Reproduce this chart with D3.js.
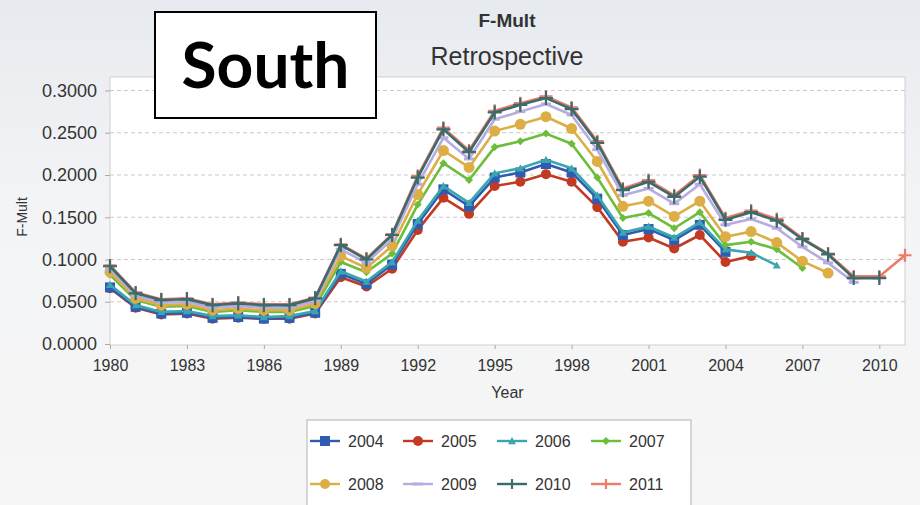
<!DOCTYPE html>
<html>
<head>
<meta charset="utf-8">
<script src="https://cdn.jsdelivr.net/npm/d3@7"></script>
<style>
  html, body { margin: 0; padding: 0; background: #f4f5f7; }
  svg { display: block; }
</style>
</head>
<body>
<svg id="chart" width="920" height="505"></svg>
<script>
// ---------------- DATA ----------------
const years = d3.range(1980, 2012);            // 1980 .. 2011
const xTickValues = [1980, 1983, 1986, 1989, 1992, 1995, 1998, 2001, 2004, 2007, 2010];
const yTickValues = [0, 0.05, 0.10, 0.15, 0.20, 0.25, 0.30];
const seriesNames = ["2004", "2005", "2006", "2007", "2008", "2009", "2010", "2011"];

const f2004 = [0.067, 0.044, 0.036, 0.037, 0.031, 0.032, 0.030, 0.031, 0.037, 0.083, 0.071, 0.094, 0.142, 0.183, 0.163, 0.197, 0.203, 0.213, 0.203, 0.172, 0.129, 0.136, 0.123, 0.141, 0.109];
const f2005 = [0.066, 0.043, 0.035, 0.036, 0.030, 0.031, 0.030, 0.030, 0.036, 0.079, 0.068, 0.089, 0.135, 0.173, 0.154, 0.187, 0.192, 0.201, 0.192, 0.162, 0.121, 0.126, 0.113, 0.129, 0.097, 0.104];
const f2006 = [0.070, 0.046, 0.038, 0.039, 0.033, 0.034, 0.032, 0.033, 0.039, 0.086, 0.074, 0.097, 0.146, 0.187, 0.167, 0.202, 0.208, 0.218, 0.208, 0.176, 0.132, 0.139, 0.126, 0.144, 0.112, 0.108, 0.093];
const f2007 = [0.082, 0.052, 0.044, 0.045, 0.038, 0.040, 0.038, 0.038, 0.045, 0.097, 0.085, 0.107, 0.165, 0.214, 0.194, 0.233, 0.240, 0.249, 0.237, 0.197, 0.149, 0.155, 0.137, 0.156, 0.117, 0.121, 0.112, 0.090];
const f2008 = [0.085, 0.054, 0.046, 0.047, 0.040, 0.042, 0.040, 0.040, 0.048, 0.104, 0.090, 0.116, 0.177, 0.229, 0.209, 0.252, 0.260, 0.269, 0.255, 0.216, 0.163, 0.169, 0.151, 0.169, 0.127, 0.133, 0.120, 0.098, 0.084];
const f2009 = [0.089, 0.057, 0.049, 0.050, 0.043, 0.045, 0.043, 0.043, 0.051, 0.112, 0.096, 0.124, 0.189, 0.244, 0.219, 0.266, 0.275, 0.284, 0.271, 0.230, 0.176, 0.184, 0.166, 0.189, 0.141, 0.148, 0.137, 0.115, 0.096, 0.073];
const f2010 = [0.092, 0.060, 0.052, 0.053, 0.046, 0.048, 0.046, 0.046, 0.054, 0.117, 0.100, 0.129, 0.197, 0.254, 0.227, 0.274, 0.283, 0.291, 0.278, 0.238, 0.182, 0.192, 0.174, 0.198, 0.147, 0.156, 0.146, 0.124, 0.106, 0.078, 0.078];
const f2011 = [0.093, 0.061, 0.053, 0.054, 0.047, 0.049, 0.047, 0.047, 0.055, 0.118, 0.101, 0.130, 0.199, 0.256, 0.229, 0.276, 0.285, 0.293, 0.280, 0.240, 0.184, 0.194, 0.176, 0.200, 0.149, 0.158, 0.148, 0.125, 0.107, 0.080, 0.080, 0.105];

const seriesValues = [f2004, f2005, f2006, f2007, f2008, f2009, f2010, f2011];

// ---------------- STYLE ----------------
const colors = ["#2f5cb0", "#c23a22", "#3aa6b0", "#6cbd3a", "#dcae45", "#b8abdf", "#3b6b6a", "#ee7a68"];
const markers = ["square", "circle", "triangle", "diamond", "circle", "dash", "plus", "plus"];
const markerSize = [10, 10, 8, 8, 11, 10, 14, 13];

const series = seriesNames.map((name, i) => ({
  name, color: colors[i], marker: markers[i], size: markerSize[i],
  points: seriesValues[i].map((v, j) => ({ year: years[j], value: v }))
}));

const svg = d3.select("#chart");
const W = 920, H = 505;

// background gradient
const defs = svg.append("defs");
const grad = defs.append("linearGradient").attr("id", "bg").attr("x1", 0).attr("y1", 0).attr("x2", 0).attr("y2", 1);
grad.append("stop").attr("offset", "0%").attr("stop-color", "#e7eaef");
grad.append("stop").attr("offset", "40%").attr("stop-color", "#f3f4f6");
grad.append("stop").attr("offset", "100%").attr("stop-color", "#f6f6f6");
svg.append("rect").attr("width", W).attr("height", H).attr("fill", "url(#bg)");

const plot = { left: 110, right: 905, top: 77, bottom: 345 };
const x = d3.scaleLinear().domain([1980, 2011]).range([plot.left, plot.right]);
const y = d3.scaleLinear().domain([0, 0.3]).range([344, 90.5]);

// plot area
svg.append("rect")
  .attr("x", plot.left).attr("y", plot.top)
  .attr("width", plot.right - plot.left).attr("height", plot.bottom - plot.top)
  .attr("fill", "#ffffff").attr("stroke", "#cfcfcf").attr("stroke-width", 1);

// gridlines
svg.append("g").selectAll("line").data(yTickValues.filter(v => v > 0)).join("line")
  .attr("x1", plot.left).attr("x2", plot.right)
  .attr("y1", d => y(d)).attr("y2", d => y(d))
  .attr("stroke", "#c9c9c9").attr("stroke-width", 1).attr("stroke-dasharray", "4,3");

const fontFam = "'Liberation Sans', Arial, sans-serif";

// y axis
const yAxis = d3.axisLeft(y).tickValues(yTickValues).tickFormat(d3.format(".4f")).tickSize(5).tickPadding(8);
const gy = svg.append("g").attr("transform", `translate(${plot.left},0)`).call(yAxis);
gy.select(".domain").remove();
gy.selectAll(".tick line").attr("stroke", "#aaa");
gy.selectAll("text").attr("font-family", fontFam).attr("font-size", 18).attr("fill", "#333");

// x axis
const xAxis = d3.axisBottom(x).tickValues(xTickValues).tickFormat(d3.format("d")).tickSize(4).tickPadding(11);
const gx = svg.append("g").attr("transform", `translate(0,${plot.bottom})`).call(xAxis);
gx.select(".domain").remove();
gx.selectAll(".tick line").attr("stroke", "#aaa");
gx.selectAll("text").attr("font-family", fontFam).attr("font-size", 16).attr("fill", "#333");

// axis labels
svg.append("text").attr("x", (plot.left + plot.right) / 2).attr("y", 398)
  .attr("text-anchor", "middle").attr("font-family", fontFam).attr("font-size", 16).attr("fill", "#333")
  .text("Year");
svg.append("text").attr("transform", `translate(27,${(plot.top + plot.bottom) / 2 + 6}) rotate(-90)`)
  .attr("text-anchor", "middle").attr("font-family", fontFam).attr("font-size", 14).attr("fill", "#333")
  .text("F-Mult");

// titles
svg.append("text").attr("x", 507).attr("y", 27).attr("text-anchor", "middle")
  .attr("font-family", fontFam).attr("font-size", 19).attr("font-weight", "bold").attr("fill", "#333")
  .text("F-Mult");
svg.append("text").attr("x", 507).attr("y", 65).attr("text-anchor", "middle")
  .attr("font-family", fontFam).attr("font-size", 25).attr("fill", "#333")
  .text("Retrospective");

// marker drawing
function drawMarker(g, type, color, size) {
  const s = size / 2;
  if (type === "square") {
    g.append("rect").attr("x", -s).attr("y", -s).attr("width", size).attr("height", size).attr("fill", color);
  } else if (type === "circle") {
    g.append("circle").attr("r", s).attr("fill", color);
  } else if (type === "triangle") {
    g.append("path").attr("d", `M0,${-s} L${s},${s * 0.8} L${-s},${s * 0.8} Z`).attr("fill", color);
  } else if (type === "diamond") {
    g.append("path").attr("d", `M0,${-s} L${s},0 L0,${s} L${-s},0 Z`).attr("fill", color);
  } else if (type === "dash") {
    g.append("line").attr("x1", -s).attr("x2", s).attr("y1", 0).attr("y2", 0).attr("stroke", color).attr("stroke-width", 3);
  } else if (type === "plus") {
    g.append("path").attr("d", `M${-s},0 H${s} M0,${-s} V${s}`).attr("stroke", color).attr("stroke-width", 2.2).attr("fill", "none");
  }
}

const line = d3.line().x(d => x(d.year)).y(d => y(d.value));

const drawOrder = [7, 1, 0, 2, 3, 4, 5, 6];
const gSeries = svg.append("g");
drawOrder.forEach(i => {
  const s = series[i];
  const g = gSeries.append("g");
  g.append("path").datum(s.points).attr("d", line)
    .attr("fill", "none").attr("stroke", s.color).attr("stroke-width", 2.6).attr("stroke-linejoin", "round");
  g.selectAll("g.m").data(s.points).join("g").attr("class", "m")
    .attr("transform", d => `translate(${x(d.year)},${y(d.value)})`)
    .each(function () { drawMarker(d3.select(this), s.marker, s.color, s.size); });
});

// legend
const lg = svg.append("g");
lg.append("rect").attr("x", 307).attr("y", 420).attr("width", 384).attr("height", 100)
  .attr("fill", "#ffffff").attr("stroke", "#bdbdbd").attr("stroke-width", 1.2);
const colX = [325, 418, 512, 606];
const rowY = [441, 484];
series.forEach((s, i) => {
  const cx = colX[i % 4], cy = rowY[Math.floor(i / 4)];
  const g = lg.append("g").attr("transform", `translate(${cx},${cy})`);
  g.append("line").attr("x1", -15).attr("x2", 15).attr("stroke", s.color).attr("stroke-width", 2.4);
  drawMarker(g, s.marker, s.color, Math.min(s.size, 10));
  g.append("text").attr("x", 23).attr("y", 6).attr("font-family", fontFam).attr("font-size", 16).attr("fill", "#333").text(s.name);
});

// "South" box
svg.append("rect").attr("x", 155).attr("y", 12).attr("width", 221).attr("height", 106)
  .attr("fill", "#ffffff").attr("stroke", "#000").attr("stroke-width", 2);
svg.append("text").attr("x", 265.5).attr("y", 88).attr("text-anchor", "middle")
  .attr("font-family", "Lato, 'Open Sans', sans-serif").attr("font-weight", "bold").attr("font-size", 64).attr("fill", "#000")
  .text("South");
</script>
</body>
</html>
